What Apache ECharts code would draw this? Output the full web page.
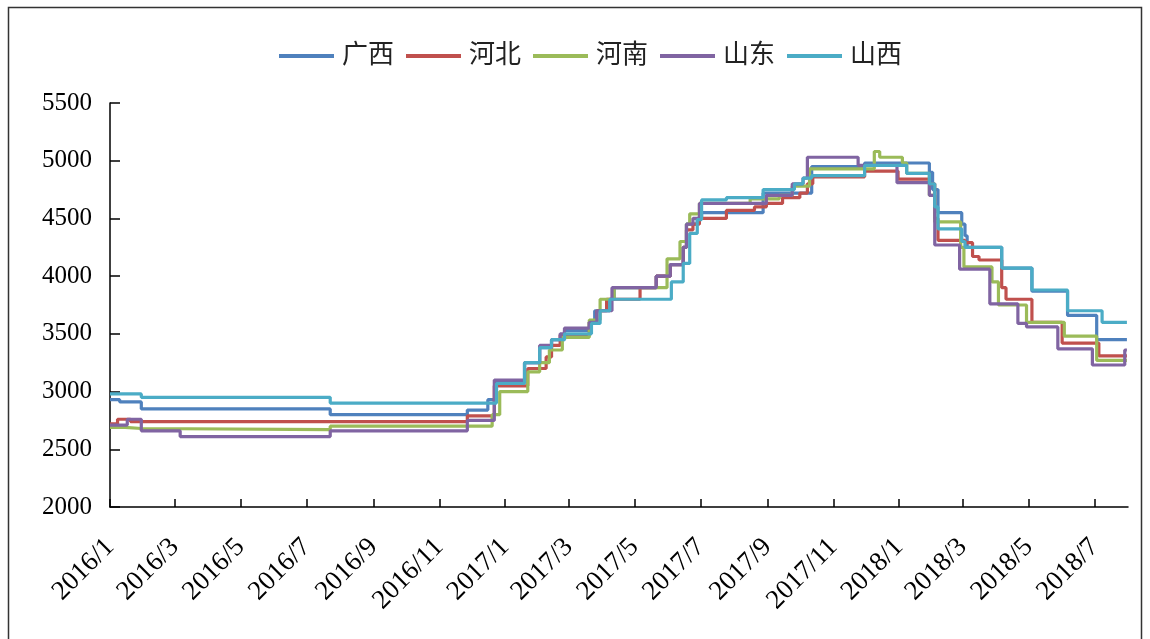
<!DOCTYPE html>
<html>
<head>
<meta charset="utf-8">
<script src="https://cdn.jsdelivr.net/npm/echarts@6/dist/echarts.min.js"></script>
<style>
html,body{margin:0;padding:0;background:#fff;}
#chart{width:1150px;height:639px;}
</style>
</head>
<body>
<div id="chart"></div>
<script>
// Legend / series names
const seriesNames = ['广西', '河北', '河南', '山东', '山西'];
// X axis tick labels (every two months)
const tickLabels = ['2016/1','2016/3','2016/5','2016/7','2016/9','2016/11','2017/1','2017/3','2017/5','2017/7','2017/9','2017/11','2018/1','2018/3','2018/5','2018/7'];

// 广西 price change points
const gxDates = ['2016-01-01','2016-01-10','2016-01-30','2016-07-23','2016-11-27','2016-12-16','2016-12-24','2017-01-19','2017-02-02','2017-02-13','2017-02-25','2017-03-20','2017-03-25','2017-04-08','2017-04-12','2017-05-21','2017-06-03','2017-06-15','2017-06-18','2017-06-28','2017-07-02','2017-08-28','2017-10-12','2017-11-30','2018-01-29','2018-02-01','2018-02-06','2018-02-28','2018-03-03','2018-03-05','2018-04-06','2018-05-04','2018-06-06','2018-07-03','2018-07-31'];
const gxValues = [2930,2910,2850,2800,2840,2930,3080,3250,3380,3450,3530,3600,3700,3800,3900,4000,4100,4250,4450,4500,4550,4720,4950,4980,4900,4750,4550,4450,4350,4250,4070,3870,3660,3450,3450];

// 河北
const hbDates = ['2016-01-01','2016-01-08','2016-01-20','2016-11-27','2016-12-22','2017-01-22','2017-02-08','2017-02-13','2017-02-21','2017-03-20','2017-03-27','2017-04-05','2017-05-06','2017-05-21','2017-06-03','2017-06-15','2017-06-18','2017-06-24','2017-06-30','2017-07-25','2017-08-20','2017-08-31','2017-09-15','2017-10-01','2017-10-08','2017-10-13','2017-11-30','2017-12-31','2018-01-29','2018-02-03','2018-02-06','2018-03-03','2018-03-10','2018-03-16','2018-04-06','2018-04-10','2018-05-04','2018-06-01','2018-07-05','2018-07-31'];
const hbValues = [2720,2760,2740,2790,3050,3200,3300,3400,3490,3600,3700,3800,3900,4000,4100,4250,4400,4450,4500,4570,4600,4630,4680,4720,4800,4860,4910,4840,4800,4500,4310,4290,4170,4140,3900,3800,3600,3420,3310,3310];

// 河南
const hnDates = ['2016-01-01','2016-01-15','2016-01-30','2016-07-23','2016-12-20','2016-12-27','2017-01-22','2017-02-02','2017-02-11','2017-02-23','2017-03-20','2017-03-30','2017-04-12','2017-05-31','2017-06-12','2017-06-18','2017-06-21','2017-06-30','2017-08-16','2017-09-12','2017-09-24','2017-10-10','2017-12-09','2017-12-14','2018-01-04','2018-01-08','2018-01-29','2018-02-03','2018-02-27','2018-03-02','2018-03-28','2018-04-03','2018-04-29','2018-06-03','2018-07-03','2018-07-31'];
const hnValues = [2690,2680,2670,2700,2800,3000,3170,3250,3360,3470,3620,3800,3900,4150,4300,4450,4540,4630,4670,4700,4780,4930,5080,5030,4980,4890,4700,4470,4250,4080,3950,3750,3600,3480,3270,3270];

// 山东
const sdDates = ['2016-01-01','2016-01-17','2016-01-30','2016-03-06','2016-07-23','2016-11-27','2016-12-22','2017-01-19','2017-02-02','2017-02-13','2017-02-21','2017-02-25','2017-03-20','2017-03-27','2017-04-10','2017-05-21','2017-06-03','2017-06-15','2017-06-18','2017-06-24','2017-06-30','2017-08-31','2017-09-24','2017-10-04','2017-10-08','2017-11-24','2017-12-30','2018-01-29','2018-02-03','2018-02-26','2018-03-26','2018-04-21','2018-04-29','2018-05-28','2018-06-29','2018-07-29','2018-07-31'];
const sdValues = [2710,2760,2660,2610,2660,2750,3100,3250,3400,3450,3500,3550,3600,3700,3900,4000,4100,4250,4450,4500,4630,4700,4800,4850,5030,4960,4810,4700,4270,4060,3760,3590,3560,3370,3230,3360,3360];

// 山西
const sxDates = ['2016-01-01','2016-01-30','2016-07-23','2016-12-24','2017-01-19','2017-02-02','2017-02-13','2017-02-25','2017-03-22','2017-03-30','2017-04-08','2017-06-04','2017-06-15','2017-06-21','2017-06-28','2017-07-02','2017-07-25','2017-08-28','2017-09-26','2017-10-04','2017-10-12','2017-11-30','2018-01-08','2018-01-29','2018-02-03','2018-02-06','2018-02-28','2018-03-03','2018-04-06','2018-05-04','2018-06-06','2018-07-08','2018-07-31'];
const sxValues = [2980,2950,2900,3070,3250,3380,3450,3500,3590,3700,3800,3950,4110,4370,4490,4660,4680,4750,4800,4850,4870,4960,4890,4800,4600,4410,4300,4250,4070,3880,3700,3600,3600];

const colors = ['#4F81BD','#C0504D','#9BBB59','#8064A2','#4BACC6'];
const allDates = [gxDates, hbDates, hnDates, sdDates, sxDates];
const allValues = [gxValues, hbValues, hnValues, sdValues, sxValues];

function dateTs(s) {
  const p = s.split('-');
  return new Date(+p[0], +p[1] - 1, +p[2]).getTime();
}
function labelTs(label) {
  const p = label.split('/');
  return new Date(+p[0], +p[1] - 1, 1).getTime();
}
const tickValues = tickLabels.map(labelTs);
const labelMap = {};
tickLabels.forEach(function (l, i) { labelMap[tickValues[i]] = l; });

const serifFont = "'Liberation Serif', 'Noto Sans CJK SC', serif";

const chart = echarts.init(document.getElementById('chart'));
chart.setOption({
  backgroundColor: '#fff',
  animation: false,
  color: colors,
  graphic: [{
    type: 'rect',
    shape: { x: 8.5, y: 7.5, width: 1133, height: 640 },
    style: { fill: 'none', stroke: '#333', lineWidth: 1.5 },
    silent: true
  }],
  legend: {
    top: 38,
    left: 274,
    itemWidth: 55,
    itemHeight: 4,
    itemGap: 12,
    icon: 'rect',
    textStyle: { fontSize: 26, color: '#222', fontFamily: serifFont, padding: [0, 0, 0, 3] },
    data: seriesNames
  },
  grid: { left: 110, right: 22, top: 103, bottom: 132, containLabel: false },
  xAxis: {
    type: 'value',
    min: new Date(2016, 0, 1).getTime(),
    max: new Date(2018, 7, 1).getTime(),
    axisLine: { lineStyle: { color: '#000', width: 1.5 } },
    axisTick: { show: true, inside: true, length: 8, lineStyle: { color: '#000', width: 1.5 }, customValues: tickValues },
    axisLabel: {
      rotate: 45, margin: 36, fontSize: 27, color: '#000', fontFamily: serifFont,
      customValues: tickValues,
      showMinLabel: true, showMaxLabel: true,
      formatter: function (v) { return labelMap[v] || ''; }
    },
    splitLine: { show: false }
  },
  yAxis: {
    type: 'value',
    min: 2000, max: 5500, interval: 500,
    axisLine: { show: true, lineStyle: { color: '#000', width: 1.5 } },
    axisTick: { show: true, inside: true, length: 10, lineStyle: { color: '#000', width: 1.5 } },
    axisLabel: { fontSize: 25, color: '#000', margin: 18, fontFamily: serifFont, formatter: function (v) { return String(v); } },
    splitLine: { show: false }
  },
  series: seriesNames.map(function (name, i) {
    return {
      name: name,
      type: 'line',
      step: 'end',
      showSymbol: false,
      symbol: 'none',
      lineStyle: { width: 3.2, color: colors[i] },
      itemStyle: { color: colors[i] },
      data: allDates[i].map(function (d, j) { return [dateTs(d), allValues[i][j]]; })
    };
  })
});
</script>
</body>
</html>
